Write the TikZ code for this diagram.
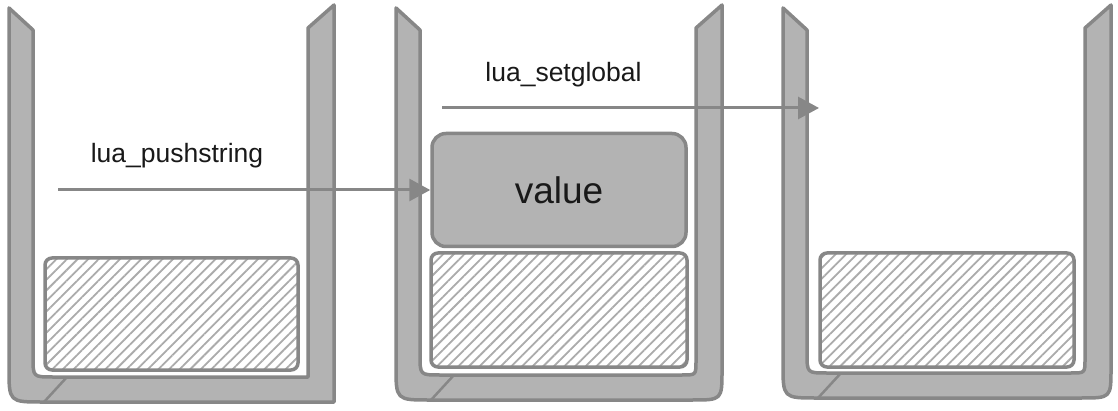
\documentclass[tikz,border=0pt]{standalone}
\usepackage{fontspec}
\setmainfont{Liberation Sans}
\usetikzlibrary{arrows.meta,patterns.meta}

\definecolor{edgegray}{HTML}{878787}
\definecolor{wallgray}{HTML}{B3B3B3}
\definecolor{hatchgray}{HTML}{ABABAB}

\tikzset{
  wall/.style={draw=edgegray, fill=wallgray, line width=3.5pt, line join=round},
  seam/.style={draw=edgegray, line width=2.5pt},
  slot/.style={draw=edgegray, line width=3.5pt, rounded corners=7pt,
    pattern={Lines[angle=45,distance=7.5pt,line width=1.8pt]}, pattern color=hatchgray},
  valuebox/.style={draw=edgegray, fill=wallgray, line width=3.5pt, rounded corners=14pt,
    minimum width=254pt, minimum height=113pt, text=black!90,
    font=\fontsize{37}{44}\selectfont},
  lbl/.style={anchor=base, text=black!90, font=\fontsize{26.5}{32}\selectfont},
  flow/.style={draw=edgegray, line width=3pt, -{Triangle[length=21pt,width=22pt]}}
}

\begin{document}
\begin{tikzpicture}[x=1pt,y=-1pt]
\fill[white] (0,0) rectangle (1118,411);
\useasboundingbox (0,0) rectangle (1118,411);

% left x, right x, bottom y, outer and inner right corner radius
\def\bucket#1#2#3#4#5{%
  \draw[wall] (#1,8) -- (#1+24,30) -- (#1+24,#3-45)
    .. controls (#1+24,#3-25) .. (#1+44,#3-25) -- (#2-26-#5,#3-25)
    .. controls (#2-26,#3-25) .. (#2-26,#3-25-#5) -- (#2-26,28) -- (#2,5)
    -- (#2,#3-#4) .. controls (#2,#3) .. (#2-#4,#3) -- (#1+34,#3)
    .. controls (#1,#3) .. (#1,#3-34) -- cycle;
  \draw[seam] (#1+35,#3) -- (#1+58,#3-25);
}

\bucket{9}{334}{402}{0}{0}
\bucket{396}{722}{400}{30}{14}
\bucket{783}{1111}{398}{30}{14}

\node[slot, minimum width=253pt, minimum height=112pt] (base1) at (171.5,314) {};
\node[slot, minimum width=256pt, minimum height=114pt] (base2) at (559,310) {};
\node[slot, minimum width=254pt, minimum height=114pt] (base3) at (947,310) {};

\node[valuebox] (value) at (559,190) {value};

\node[lbl] (pushlbl) at (177,163) {lua\_pushstring};
\node[lbl] (setlbl) at (563.5,82) {lua\_setglobal};

\coordinate (pushfrom) at (58,190);
\coordinate (setfrom) at (442,108);
\coordinate (setto) at (819,108);

\draw[flow] (pushfrom) -- (value.west);
\draw[flow] (setfrom) -- (setto);

\end{tikzpicture}
\end{document}
